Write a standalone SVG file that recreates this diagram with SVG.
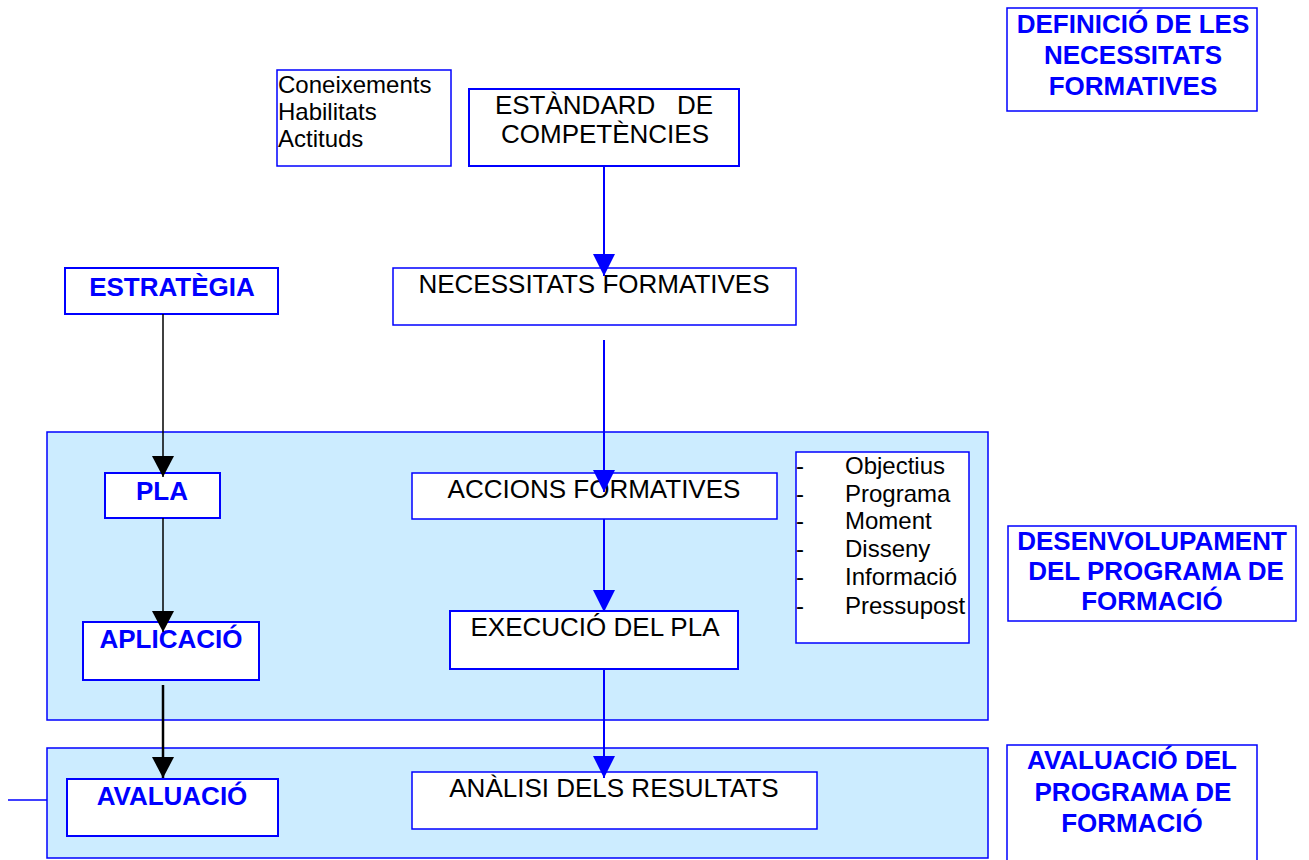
<svg xmlns="http://www.w3.org/2000/svg" width="1309" height="860" viewBox="0 0 1309 860">
<defs>
<style>
.box{fill:#fff;stroke:#0000ff;stroke-width:2}
.thin{fill:#fff;stroke:#0000ff;stroke-width:1.5}
.panel{fill:#ccecff;stroke:#0000ff;stroke-width:1.5}
.t{font-family:"Liberation Sans",Arial,sans-serif;font-size:26px;fill:#000}
.s{font-family:"Liberation Sans",Arial,sans-serif;font-size:24px;fill:#000}
.b{font-family:"Liberation Sans",Arial,sans-serif;font-size:26px;font-weight:bold;fill:#0000ff}
.c{text-anchor:middle}
.bl{fill:none;stroke:#0000ff;stroke-width:2}
.bk{fill:none;stroke:#000;stroke-width:1.5}
</style>
<marker id="ab" markerUnits="userSpaceOnUse" markerWidth="22" markerHeight="22" refX="22" refY="11" orient="auto" viewBox="0 0 22 22">
<path d="M0,0 L22,11 L0,22 z" fill="#0000ff"/>
</marker>
<marker id="ak" markerUnits="userSpaceOnUse" markerWidth="22" markerHeight="22" refX="21" refY="11" orient="auto" viewBox="0 0 22 22">
<path d="M0,0 L21,11 L0,22 z" fill="#000"/>
</marker>
</defs>
<rect width="1309" height="860" fill="#fff"/>

<g id="panel-desenvolupament"><rect class="panel" x="47" y="432" width="941" height="288"/></g>
<g id="panel-avaluacio"><rect class="panel" x="47" y="748" width="941" height="110"/></g>

<g id="definicio">
<rect class="thin" x="1007" y="8" width="250" height="103"/>
<text class="b c" x="1133" y="33">DEFINICIÓ DE LES</text>
<text class="b c" x="1133" y="64">NECESSITATS</text>
<text class="b c" x="1133" y="95">FORMATIVES</text>
</g>

<g id="coneixements">
<rect class="thin" x="277" y="70" width="174" height="96"/>
<text class="s" x="278" y="93">Coneixements</text>
<text class="s" x="278" y="120">Habilitats</text>
<text class="s" x="278" y="147">Actituds</text>
</g>

<g id="estandard">
<rect class="box" x="469" y="89" width="270" height="77"/>
<text class="t c" x="604" y="114" xml:space="preserve">ESTÀNDARD   DE</text>
<text class="t c" x="605" y="143">COMPETÈNCIES</text>
</g>

<g id="estrategia">
<rect class="box" x="65" y="268" width="213" height="46"/>
<text class="b c" x="172" y="296">ESTRATÈGIA</text>
</g>

<g id="necessitats">
<rect class="thin" x="393" y="268" width="403" height="57"/>
<text class="t c" x="594" y="293">NECESSITATS FORMATIVES</text>
</g>

<g id="pla">
<rect class="box" x="105" y="473" width="115" height="45"/>
<text class="b c" x="162" y="500">PLA</text>
</g>

<g id="accions">
<rect class="thin" x="412" y="473" width="365" height="46"/>
<text class="t c" x="594" y="498">ACCIONS FORMATIVES</text>
</g>

<g id="llista">
<rect class="thin" x="796" y="452" width="173" height="191"/>
<text class="s" x="796" y="474">-</text><text class="s" x="845" y="474">Objectius</text>
<text class="s" x="796" y="502">-</text><text class="s" x="845" y="502">Programa</text>
<text class="s" x="796" y="529">-</text><text class="s" x="845" y="529">Moment</text>
<text class="s" x="796" y="557">-</text><text class="s" x="845" y="557">Disseny</text>
<text class="s" x="796" y="585">-</text><text class="s" x="845" y="585">Informació</text>
<text class="s" x="796" y="614">-</text><text class="s" x="845" y="614">Pressupost</text>
</g>

<g id="desenvolupament">
<rect class="thin" x="1008" y="526" width="288" height="95"/>
<text class="b c" x="1152" y="550">DESENVOLUPAMENT</text>
<text class="b c" x="1156" y="580">DEL PROGRAMA DE</text>
<text class="b c" x="1152" y="610">FORMACIÓ</text>
</g>

<g id="aplicacio">
<rect class="box" x="83" y="622" width="176" height="58"/>
<text class="b c" x="171" y="648">APLICACIÓ</text>
</g>

<g id="execucio">
<rect class="box" x="450" y="611" width="288" height="58"/>
<text class="t c" x="595" y="636">EXECUCIÓ DEL PLA</text>
</g>

<g id="avaluacio">
<rect class="box" x="67" y="779" width="211" height="57"/>
<text class="b c" x="172" y="805">AVALUACIÓ</text>
</g>

<g id="analisi">
<rect class="thin" x="412" y="772" width="405" height="57"/>
<text class="t c" x="614" y="797">ANÀLISI DELS RESULTATS</text>
</g>

<g id="avaluacio-programa">
<rect class="thin" x="1007" y="745" width="250" height="120"/>
<text class="b c" x="1132" y="769">AVALUACIÓ DEL</text>
<text class="b c" x="1133" y="801">PROGRAMA DE</text>
<text class="b c" x="1132" y="832">FORMACIÓ</text>
</g>

<g id="connectors">
<line class="bl" x1="604" y1="166" x2="604" y2="276" marker-end="url(#ab)"/>
<line class="bl" x1="604" y1="340" x2="604" y2="492" marker-end="url(#ab)"/>
<line class="bl" x1="604" y1="519" x2="604" y2="612" marker-end="url(#ab)"/>
<line class="bl" x1="604" y1="669" x2="604" y2="778" marker-end="url(#ab)"/>
<line class="bk" x1="163" y1="314" x2="163" y2="477" marker-end="url(#ak)"/>
<line class="bk" x1="163" y1="518" x2="163" y2="632" marker-end="url(#ak)"/>
<line class="bk" x1="163" y1="685" x2="163" y2="778" style="stroke-width:2.5" marker-end="url(#ak)"/>
<line class="bl" x1="8" y1="800" x2="47" y2="800" style="stroke-width:1.5"/>
</g>
</svg>
